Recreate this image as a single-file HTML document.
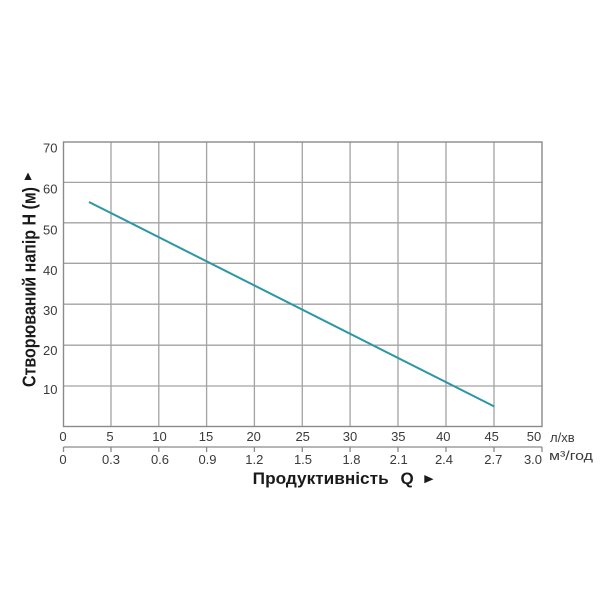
<!DOCTYPE html>
<html>
<head>
<meta charset="utf-8">
<style>
html,body{margin:0;padding:0;background:#fff;}
svg{display:block;}
text{font-family:"Liberation Sans", Arial, sans-serif;}
</style>
</head>
<body>
<svg width="600" height="600" viewBox="0 0 600 600" xmlns="http://www.w3.org/2000/svg">
<rect width="600" height="600" fill="#fff"/>
<g stroke="#a3a3a3" stroke-width="1.3">
<line x1="111" y1="142" x2="111" y2="426.5"/>
<line x1="158.8" y1="142" x2="158.8" y2="426.5"/>
<line x1="206.6" y1="142" x2="206.6" y2="426.5"/>
<line x1="254.4" y1="142" x2="254.4" y2="426.5"/>
<line x1="302.3" y1="142" x2="302.3" y2="426.5"/>
<line x1="350.1" y1="142" x2="350.1" y2="426.5"/>
<line x1="398" y1="142" x2="398" y2="426.5"/>
<line x1="446" y1="142" x2="446" y2="426.5"/>
<line x1="494" y1="142" x2="494" y2="426.5"/>
<line x1="63.5" y1="182.4" x2="542" y2="182.4"/>
<line x1="63.5" y1="222.8" x2="542" y2="222.8"/>
<line x1="63.5" y1="263.3" x2="542" y2="263.3"/>
<line x1="63.5" y1="304.2" x2="542" y2="304.2"/>
<line x1="63.5" y1="345.2" x2="542" y2="345.2"/>
<line x1="63.5" y1="386" x2="542" y2="386"/>
</g>
<rect x="63.5" y="142" width="478.5" height="284.5" fill="none" stroke="#8a8a8a" stroke-width="1.4"/>
<g stroke="#8a8a8a" stroke-width="1.3">
<line x1="63.5" y1="447" x2="542" y2="447"/>
<line x1="63.5" y1="447" x2="63.5" y2="452"/>
<line x1="111" y1="447" x2="111" y2="452"/>
<line x1="158.8" y1="447" x2="158.8" y2="452"/>
<line x1="206.6" y1="447" x2="206.6" y2="452"/>
<line x1="254.4" y1="447" x2="254.4" y2="452"/>
<line x1="302.3" y1="447" x2="302.3" y2="452"/>
<line x1="350.1" y1="447" x2="350.1" y2="452"/>
<line x1="398" y1="447" x2="398" y2="452"/>
<line x1="446" y1="447" x2="446" y2="452"/>
<line x1="494" y1="447" x2="494" y2="452"/>
<line x1="542" y1="447" x2="542" y2="452"/>
</g>
<line x1="89" y1="202" x2="494.3" y2="406.5" stroke="#2b97a6" stroke-width="2"/>
<g font-size="13" fill="#3a3a3a" text-anchor="end">
<text x="57.5" y="152.7">70</text>
<text x="57.5" y="193.3">60</text>
<text x="57.5" y="234.3">50</text>
<text x="57.5" y="275">40</text>
<text x="57.5" y="315">30</text>
<text x="57.5" y="355">20</text>
<text x="57.5" y="394">10</text>
</g>
<g font-size="13" fill="#3a3a3a" text-anchor="middle">
<text x="63" y="441">0</text>
<text x="110" y="441">5</text>
<text x="159.5" y="441">10</text>
<text x="206" y="441">15</text>
<text x="253.7" y="441">20</text>
<text x="302.7" y="441">25</text>
<text x="350" y="441">30</text>
<text x="398.3" y="441">35</text>
<text x="443.3" y="441">40</text>
<text x="491.7" y="441">45</text>
<text x="534" y="441">50</text>
<text x="63" y="464">0</text>
<text x="111" y="464">0.3</text>
<text x="160" y="464">0.6</text>
<text x="207.5" y="464">0.9</text>
<text x="254.3" y="464">1.2</text>
<text x="303" y="464">1.5</text>
<text x="351.5" y="464">1.8</text>
<text x="398.7" y="464">2.1</text>
<text x="444" y="464">2.4</text>
<text x="493.3" y="464">2.7</text>
<text x="533" y="464">3.0</text>
</g>
<text x="550" y="442" font-size="13" fill="#3a3a3a">л/хв</text>
<text x="549" y="460" font-size="12.5" fill="#3a3a3a" textLength="44" lengthAdjust="spacingAndGlyphs">м³/год</text>
<text x="252.7" y="484" font-size="17" font-weight="bold" fill="#1a1a1a" textLength="136" lengthAdjust="spacingAndGlyphs">Продуктивність</text>
<text x="400.5" y="484" font-size="17" font-weight="bold" fill="#1a1a1a">Q</text>
<polygon points="424.3,475 424.3,483.3 433.5,479.2" fill="#1a1a1a"/>
<text transform="translate(35.5,387) rotate(-90)" x="0" y="0" font-size="18.5" font-weight="bold" fill="#1a1a1a" textLength="200" lengthAdjust="spacingAndGlyphs">Створюваний напір Н (м)</text>
<polygon points="28,172.5 24.3,180 31.7,180" fill="#1a1a1a"/>
</svg>
</body>
</html>
